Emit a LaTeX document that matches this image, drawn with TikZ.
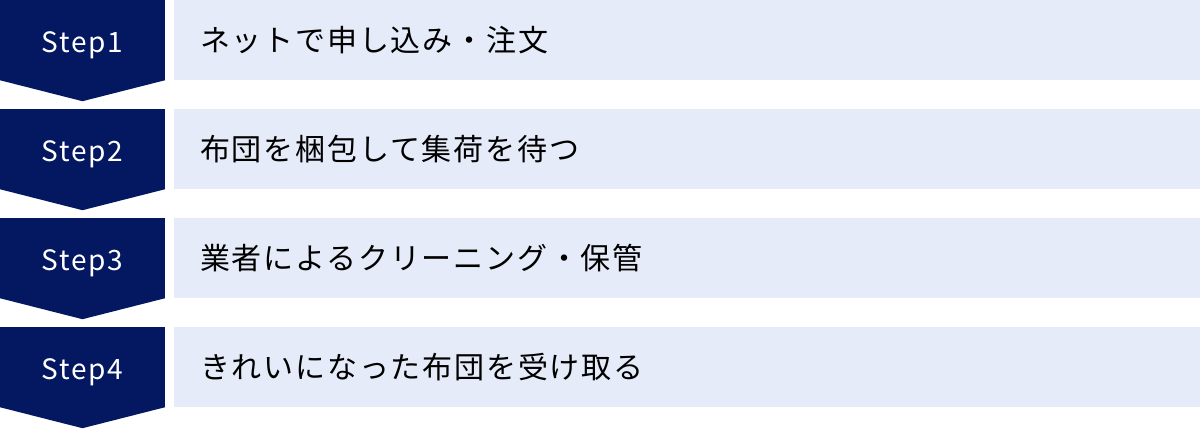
\documentclass[tikz,border=0pt]{standalone}
\usepackage{fontspec}
\setmainfont{Noto Sans CJK JP}
\newfontfamily\stepfont[LetterSpace=6]{Noto Sans CJK JP}
\newfontfamily\labelfont[LetterSpace=6]{Noto Sans CJK JP}
\definecolor{navy}{HTML}{041862}
\definecolor{paleblue}{HTML}{E5EBF8}
\tikzset{
  stepbox/.style={fill=navy,text=white,minimum width=165pt,minimum height=80pt,inner sep=0pt,text height=25pt,text depth=0pt,font=\stepfont\fontsize{28}{34}\selectfont},
  textbox/.style={fill=paleblue,anchor=west,text width=974pt,inner xsep=26pt,inner ysep=0pt,minimum height=80pt,align=left,font=\labelfont\fontsize{30}{36}\selectfont},
  tip/.style={fill=navy}
}
\begin{document}
\begin{tikzpicture}[x=1pt,y=-1pt]
        \useasboundingbox (0,0) rectangle (1200,429);
        \draw 
        (82.5,40) node[stepbox] (s1) {Step1}
        (82.5,149) node[stepbox] (s2) {Step2}
        (82.5,258) node[stepbox] (s3) {Step3}
        (82.5,367) node[stepbox] (s4) {Step4}
        (174,40) node[textbox] (t1) {ネットで申し込み・注文}
        (174,149) node[textbox] (t2) {布団を梱包して集荷を待つ}
        (174,258) node[textbox] (t3) {業者によるクリーニング・保管}
        (174,367) node[textbox] (t4) {きれいになった布団を受け取る}
        ;
        \fill[tip] (s1.south west) -- (s1.south east) -- ([yshift=-21pt]s1.south) -- cycle;
        \fill[tip] (s2.south west) -- (s2.south east) -- ([yshift=-21pt]s2.south) -- cycle;
        \fill[tip] (s3.south west) -- (s3.south east) -- ([yshift=-21pt]s3.south) -- cycle;
        \fill[tip] (s4.south west) -- (s4.south east) -- ([yshift=-21pt]s4.south) -- cycle;
    \end{tikzpicture}
\end{document}
